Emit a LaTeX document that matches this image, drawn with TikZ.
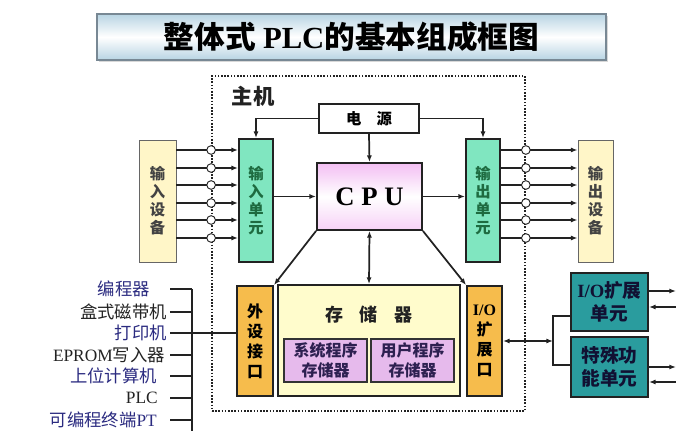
\documentclass[tikz,border=0pt]{standalone}
\usepackage{fontspec}
\setmainfont{Liberation Serif}
\newfontfamily\cjk{Noto Sans CJK SC}
\usepackage{tikz}
\usepackage{xcolor}
\usetikzlibrary{arrows.meta,calc,positioning,shadows}
\definecolor{plcInk}{RGB}{34,34,34}
\definecolor{plcSky}{RGB}{184,212,227}
\definecolor{plcFrame}{RGB}{120,136,148}
\definecolor{plcCream}{RGB}{255,246,200}
\definecolor{plcMint}{RGB}{128,230,192}
\definecolor{plcLeaf}{RGB}{30,107,64}
\definecolor{plcPink}{RGB}{243,190,243}
\definecolor{plcButter}{RGB}{255,252,204}
\definecolor{plcLilac}{RGB}{230,186,236}
\definecolor{plcPlum}{RGB}{45,32,80}
\definecolor{plcOrange}{RGB}{246,188,76}
\definecolor{plcTeal}{RGB}{42,156,158}
\definecolor{plcNavy}{RGB}{43,43,128}
\newcommand{\lat}[1]{{\rmfamily #1}}
\tikzset{
  sz/.style 2 args={minimum width=#1*0.75pt,minimum height=#2*0.75pt,inner sep=0pt},
  plcbox/.style={draw=plcInk,line width=1.4pt,align=center,
    font=\cjk\bfseries\fontsize{11.5}{13.5}\selectfont},
  devbox/.style={plcbox,draw=gray!80!black,line width=0.7pt,fill=plcCream,text=plcInk!85},
  unitbox/.style={plcbox,fill=plcMint,text=plcLeaf},
  portbox/.style={plcbox,fill=plcOrange,font=\cjk\bfseries\fontsize{12}{15}\selectfont},
  membox/.style={plcbox,draw=gray!40!black,line width=1pt,fill=plcLilac,text=plcPlum,
    font=\cjk\bfseries\fontsize{12}{15}\selectfont},
  extbox/.style={plcbox,fill=plcTeal,text=plcNavy!40!black,font=\cjk\bfseries\fontsize{14}{17}\selectfont},
  sig/.style={line width=1.3pt,draw=plcInk,-{Latex[length=5pt,width=3.8pt]}},
  duplex/.style={sig,{Latex[length=5pt,width=3.8pt]}-{Latex[length=5pt,width=3.8pt]}},
  tapring/.style={circle,draw=plcInk,fill=white,line width=0.7pt,inner sep=0pt,minimum size=6.5pt},
  devtext/.style={anchor=east,inner sep=0pt,font=\cjk\fontsize{13}{15}\selectfont},
  bus/.style={line width=1.3pt,draw=plcInk},
}
\begin{document}
\begin{tikzpicture}[x=0.75pt,y=-0.75pt]
  \useasboundingbox (0,0) rectangle (697,431);
  \node[sz={509}{46},draw=plcFrame,line width=0.8pt,top color=plcSky,bottom color=plcSky,
    middle color=white,drop shadow={shadow xshift=1.2pt,shadow yshift=-1.2pt,fill=gray!60},
    font=\cjk\bfseries\fontsize{23}{26}\selectfont] (title) at (351.5,37)
    {整体式 \lat{PLC}的基本组成框图};
  \node[sz={313}{335},draw=plcInk,line width=1.3pt,dash pattern=on 1.2pt off 1.2pt] (host) at (368.5,243.5) {};
  \node[font=\cjk\bfseries\fontsize{16}{18}\selectfont,text=plcInk] (hostname) at (253,96) {主机};
  \node[plcbox,sz={100}{29},fill=white] (power) at (369,118.5) {电\hspace{1em}源};
  \node[devbox,sz={37}{122}] (indev) at (157.5,201) {输\\入\\设\\备};
  \node[unitbox,sz={34}{123}] (inunit) at (256,200.5) {输\\入\\单\\元};
  \node[plcbox,sz={105}{67},top color=plcPink,bottom color=plcPink!70,middle color=white,
    font=\rmfamily\bfseries\fontsize{20}{24}\selectfont] (cpu) at (369.5,196.5) {C P U};
  \node[unitbox,sz={34}{123}] (outunit) at (483,200.5) {输\\出\\单\\元};
  \node[devbox,sz={35}{122}] (outdev) at (595.5,201) {输\\出\\设\\备};
  \node[portbox,sz={36}{110}] (periph) at (255,341) {外\\设\\接\\口};
  \node[plcbox,sz={182}{111},fill=plcButter] (memory) at (369,340.5) {};
  \node[font=\cjk\bfseries\fontsize{13.5}{16}\selectfont,text=plcInk] (memname) at (369,315)
    {存\hspace{0.9em}储\hspace{0.9em}器};
  \node[membox,sz={83}{43}] (sysmem) at (325.5,360.5) {系统程序\\存储器};
  \node[membox,sz={83}{43}] (usermem) at (412.5,360.5) {用户程序\\存储器};
  \node[portbox,sz={35}{110}] (ioport) at (484.5,341) {\lat{I/O}\\扩\\展\\口};
  \node[extbox,sz={77}{58}] (ioext) at (609.5,302) {\lat{I/O}扩展\\单元};
  \node[extbox,sz={77}{60}] (special) at (609.5,367) {特殊功\\能单元};
  \foreach \y in {150,168,185,203,220,238} {
    \draw[sig] (indev.east |- 0,\y) -- (inunit.west |- 0,\y);
    \node[tapring] (inring\y) at (host.west |- 0,\y) {};
    \draw[sig] (outunit.east |- 0,\y) -- (outdev.west |- 0,\y);
    \node[tapring] (outring\y) at (host.east |- 0,\y) {};
  }
  \draw[sig] (power.west) -| (inunit.north);
  \draw[sig] (power.east) -| (outunit.north);
  \draw[sig] (power.south) -- (cpu.north);
  \draw[sig] (inunit.east |- cpu.west) -- (cpu.west);
  \draw[sig] (cpu.east) -- (outunit.west |- cpu.east);
  \draw[sig] (cpu.south west) -- (periph.north east);
  \draw[sig] (cpu.south east) -- (ioport.north west);
  \draw[duplex] (cpu.south) -- (memory.north);
  \coordinate (busin) at (170,0);
  \coordinate (bustop) at (192,289);
  \coordinate (busend) at (192,431);
  \node[devtext,text=plcNavy] (prog) at (150,289) {编程器};
  \node[devtext,text=plcInk] (tape) at (167,312) {盒式磁带机};
  \node[devtext,text=plcNavy] (printer) at (167,333) {打印机};
  \node[devtext,text=plcInk] (eprom) at (165,355) {\lat{EPROM}写入器};
  \node[devtext,text=plcNavy] (upper) at (157,376) {上位计算机};
  \node[devtext,text=plcInk] (plc) at (158,398) {\lat{PLC}};
  \node[devtext,text=plcNavy] (pt) at (157,420) {可编程终端\lat{PT}};
  \foreach \d in {prog,tape,printer,eprom,upper,plc,pt}
    \draw[bus] (\d.east -| busin) -- (\d.east -| bustop);
  \draw[bus] (bustop) -- (busend);
  \draw[bus] (printer.east -| bustop) -- (printer.east -| periph.west);
  \coordinate (split) at (553,341);
  \draw[duplex] (ioport.east) -- (split);
  \draw[bus] (ioext.west |- 0,316) -| (split) |- (special.west |- 0,365);
  \foreach \b/\o/\i in {ioext/291/307,special/367/382} {
    \draw[sig] (\b.east |- 0,\o) -- ++(27,0);
    \draw[sig] (\b.east |- 0,\i) ++(27,0) -- (\b.east |- 0,\i);
  }
\end{tikzpicture}
\end{document}
